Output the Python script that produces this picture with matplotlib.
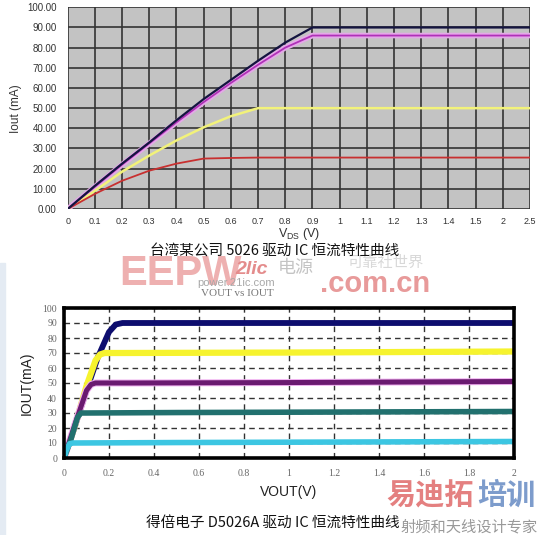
import numpy as np
import matplotlib.pyplot as plt
from matplotlib.patches import Rectangle

# Top chart: categorical V_DS ticks (uneven labels, even spacing)
vds_labels = ["0", "0.1", "0.2", "0.3", "0.4", "0.5", "0.6", "0.7", "0.8", "0.9",
              "1", "1.1", "1.2", "1.3", "1.4", "1.5", "2", "2.5"]
iout_90 = [0, 11.5, 22.5, 33, 44, 54.5, 64, 73.5, 82.5, 90, 90, 90, 90, 90, 90, 90, 90, 90]
iout_86 = [0, 11, 22, 32.5, 43, 53, 62.5, 71.5, 80, 86, 86, 86, 86, 86, 86, 86, 86, 86]
iout_50 = [0, 9, 18.5, 26.5, 34, 40.5, 46, 50, 50, 50, 50, 50, 50, 50, 50, 50, 50, 50]
iout_25 = [0, 7.5, 14, 19, 22.5, 25, 25.3, 25.5, 25.5, 25.5, 25.5, 25.5, 25.5, 25.5,
           25.5, 25.5, 25.5, 25.5]
top_yticks = [0, 10, 20, 30, 40, 50, 60, 70, 80, 90, 100]

# Bottom chart: VOUT vs IOUT
navy_x = [0, 0.05, 0.1, 0.15, 0.2, 0.23, 0.26, 0.3, 1.0, 2.0]
navy_y = [0, 22, 45, 67, 84, 89, 90, 90, 90, 90]
yellow_x = [0, 0.05, 0.1, 0.14, 0.16, 0.18, 0.25, 1.0, 2.0]
yellow_y = [0, 22, 48, 65, 69, 70, 70, 70.3, 71]
purple_x = [0, 0.05, 0.1, 0.12, 0.14, 0.3, 1.0, 2.0]
purple_y = [0, 23, 45, 49, 50, 50, 50.3, 51]
teal_x = [0, 0.03, 0.06, 0.075, 0.1, 0.5, 2.0]
teal_y = [0, 12, 27, 30, 30, 30.3, 31]
cyan_x = [0, 0.01, 0.025, 0.04, 0.5, 2.0]
cyan_y = [0, 5, 9.5, 10, 10.3, 11]
bot_xticks = [0, 0.2, 0.4, 0.6, 0.8, 1, 1.2, 1.4, 1.6, 1.8, 2]
bot_xlabels = ["0", "0.2", "0.4", "0.6", "0.8", "1", "1.2", "1.4", "1.6", "1.8", "2"]
bot_yticks = [0, 10, 20, 30, 40, 50, 60, 70, 80, 90, 100]

W, H = 544, 535
fig = plt.figure(figsize=(W / 100, H / 100), dpi=100)
fig.patch.set_facecolor("white")
cjk = ["Noto Sans CJK SC", "DejaVu Sans"]


def fx(px):
    return px / W


def fy(py):
    return 1 - py / H


# light strip at left of lower half
fig.patches.append(Rectangle((0, 0), fx(5), fy(263), transform=fig.transFigure,
                             color="#e4ebf3", zorder=0))

# ---------- top chart ----------
ax1 = fig.add_axes([fx(67.7), fy(209), fx(530 - 67.7), (209 - 7.3) / H])
ax1.set_facecolor("#c3c3c3")
pos = np.arange(len(vds_labels))
ax1.plot(pos, iout_86, color="#e4a8e8", lw=4, solid_capstyle="butt", zorder=3)
ax1.plot(pos, iout_86, color="#b030b8", lw=1.3, zorder=4)
ax1.plot(pos, iout_90, color="#141440", lw=1.6, zorder=5)
ax1.plot(pos, iout_50, color="#f2f27a", lw=1.8, zorder=3)
ax1.plot(pos, iout_25, color="#c83030", lw=1.3, zorder=3)
ax1.set_xlim(0, len(vds_labels) - 1)
ax1.set_ylim(0, 100)
ax1.set_xticks(pos)
ax1.set_xticklabels(vds_labels, fontsize=6.5, color="#333333", family="Liberation Sans")
ax1.set_yticks(top_yticks)
ax1.set_yticklabels(["%.2f" % v for v in top_yticks], fontsize=7, color="#333333",
                    family="Liberation Sans")
ax1.tick_params(axis="x", length=0, pad=6)
ax1.tick_params(axis="y", length=0, pad=8)
ax1.grid(True, color="#333333", lw=1.2)
ax1.set_axisbelow(True)
for s in ax1.spines.values():
    s.set_visible(False)
ax1.set_ylabel("Iout (mA)", fontsize=8.5, family="Liberation Sans", color="#333333",
               labelpad=4)
ax1.set_xlabel("V$_{\\mathregular{DS}}$ (V)", fontsize=9, family="Liberation Sans",
               color="#333333", labelpad=0)

# ---------- watermarks (behind captions) ----------
fig.text(fx(180), fy(274), "EEPW", fontsize=30, fontweight="bold", color="#eeb0b0",
         ha="center", va="center", family="Liberation Sans", zorder=1)
fig.text(fx(252), fy(270), "2lic", fontsize=14, fontweight="bold", color="#e48c8c",
         ha="center", va="center", family="Liberation Sans", style="italic", zorder=1)
fig.text(fx(296), fy(268), "电源", fontsize=13, color="#c4c4c4", ha="center",
         va="center", family=cjk, zorder=1)
fig.text(fx(385), fy(262), "可靠社世界", fontsize=11, color="#d8d8d8", ha="center",
         va="center", family=cjk, style="italic", zorder=1)
fig.text(fx(375), fy(284), ".com.cn", fontsize=21, fontweight="bold", color="#e89a9a",
         ha="center", va="center", family="Liberation Sans", zorder=1)
fig.text(fx(236), fy(283), "power.21ic.com", fontsize=8, color="#a8a8a8", ha="center",
         va="center", family="Liberation Sans", zorder=1)
fig.text(fx(237), fy(294), "VOUT vs IOUT", fontsize=8, color="#777777", ha="center",
         va="center", family="Liberation Serif", zorder=1)
fig.text(fx(430), fy(495), "易迪拓", fontsize=21, fontweight="bold", color="#e48080",
         ha="center", va="center", family=cjk, zorder=1)
fig.text(fx(506), fy(495), "培训", fontsize=21, fontweight="bold", color="#7d9ccc",
         ha="center", va="center", family=cjk, zorder=1)

# top caption
fig.text(fx(275), fy(251), "台湾某公司 5026 驱动 IC 恒流特性曲线", fontsize=10.5,
         color="#111111", ha="center", va="center", family=cjk, zorder=5)

# ---------- bottom chart ----------
ax2 = fig.add_axes([fx(64), fy(458), fx(514 - 64), (458 - 308) / H])
ax2.set_facecolor("white")
ax2.plot(navy_x, navy_y, color="#0d0d6e", lw=4.2, solid_capstyle="butt", zorder=3)
ax2.plot(yellow_x, yellow_y, color="#f6f32e", lw=4.5, solid_capstyle="butt", zorder=4)
ax2.plot(purple_x, purple_y, color="#f0b0f0", lw=5, solid_capstyle="butt", zorder=4)
ax2.plot(purple_x, purple_y, color="#6a1a70", lw=3.6, solid_capstyle="butt", zorder=5)
ax2.plot(teal_x, teal_y, color="#21706e", lw=4, solid_capstyle="butt", zorder=6)
ax2.plot(cyan_x, cyan_y, color="#3cc6e2", lw=4, solid_capstyle="butt", zorder=7)
ax2.set_xlim(0, 2)
ax2.set_ylim(0, 100)
ax2.set_xticks(bot_xticks)
ax2.set_xticklabels(bot_xlabels, fontsize=7, color="#666666", family="Liberation Serif")
ax2.set_yticks(bot_yticks)
ax2.set_yticklabels([str(v) for v in bot_yticks], fontsize=7, color="#666666",
                    family="Liberation Serif")
ax2.tick_params(length=0, pad=5)
ax2.tick_params(axis="x", pad=8)
ax2.grid(True, color="#333333", lw=1.0, ls=(0, (4, 3)))
ax2.set_axisbelow(True)
for s in ax2.spines.values():
    s.set_linewidth(2.6)
    s.set_color("black")
    s.set_zorder(10)
ax2.set_ylabel("IOUT(mA)", fontsize=10, family="Liberation Sans", color="#222222",
               labelpad=6)
ax2.set_xlabel("VOUT(V)", fontsize=10, family="Liberation Sans", color="#222222",
               labelpad=5)

# bottom caption
fig.text(fx(273), fy(523), "得倍电子 D5026A 驱动 IC 恒流特性曲线", fontsize=10.5,
         color="#111111", ha="center", va="center", family=cjk, zorder=5)
fig.text(fx(469), fy(527), "射频和天线设计专家", fontsize=11, color="#999999",
         ha="center", va="center", family=cjk, zorder=1)

fig.savefig("out.png", dpi=100)
